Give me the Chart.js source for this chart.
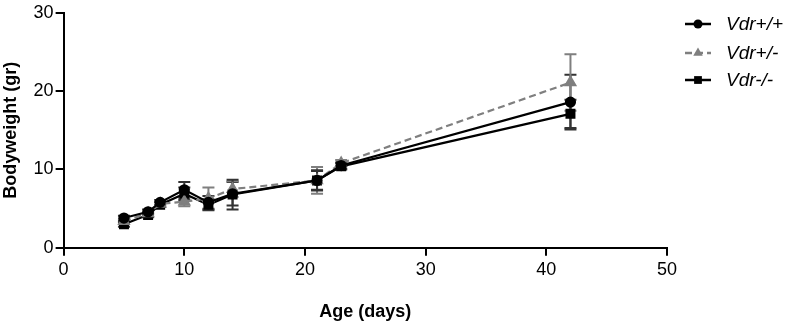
<!DOCTYPE html>
<html>
<head>
<meta charset="utf-8">
<script src="https://cdn.jsdelivr.net/npm/chart.js@4.4.1/dist/chart.umd.min.js"></script>
<style>
  html, body { margin: 0; padding: 0; background: #fff; }
  #wrap { width: 785px; height: 323px; position: relative; }
</style>
</head>
<body>
<div id="wrap"><canvas id="chart" width="785" height="323"></canvas></div>
<script>
// age in days
const days = [5, 7, 8, 10, 12, 14, 21, 23, 42];

const seriesNames = ['Vdr+/+', 'Vdr+/-', 'Vdr-/-'];
const wt = [3.8, 4.6, 5.8, 7.4, 5.8, 6.9, 8.6, 10.5, 18.6];
const wtErr = [0.3, 0.3, 0.3, 1.0, 0.8, 1.5, 1.2, 0.4, 3.5];
const het = [3.4, 4.4, 5.6, 5.9, 6.3, 7.5, 8.6, 10.8, 21.1];
const hetErr = [0.3, 0.3, 0.3, 0.6, 1.4, 1.0, 1.7, 0.4, 3.6];
const ko = [3.0, 4.2, 5.5, 6.9, 5.5, 6.8, 8.6, 10.4, 17.1];
const koErr = [0.3, 0.3, 0.3, 0.8, 0.7, 1.9, 1.3, 0.4, 1.8];

const xTicks = [0, 10, 20, 30, 40, 50];
const yTicks = [0, 10, 20, 30];

const FONT = 'Arial, "Liberation Sans", sans-serif';
const GRAY = '#7f7f7f';

function pts(vals) {
  return vals.map((v, i) => ({ x: days[i], y: v }));
}

// vertical error bars with caps
const errorBars = {
  id: 'errorBars',
  beforeDatasetsDraw(chart) {
    const ctx = chart.ctx;
    const ys = chart.scales.y;
    chart.data.datasets.forEach((ds, di) => {
      const meta = chart.getDatasetMeta(di);
      ctx.save();
      ctx.strokeStyle = ds.errColor;
      ctx.lineWidth = 2;
      meta.data.forEach((p, i) => {
        const v = ds.data[i].y, e = ds.err[i];
        const top = ys.getPixelForValue(v + e);
        const bot = ys.getPixelForValue(v - e);
        ctx.beginPath();
        ctx.moveTo(p.x, top); ctx.lineTo(p.x, bot);
        ctx.moveTo(p.x - 6, top); ctx.lineTo(p.x + 6, top);
        ctx.moveTo(p.x - 6, bot); ctx.lineTo(p.x + 6, bot);
        ctx.stroke();
      });
      ctx.restore();
    });
  }
};

// legend on the right: line + marker + italic label
const sideLegend = {
  id: 'sideLegend',
  afterDraw(chart) {
    const ctx = chart.ctx;
    const rows = [24, 53, 80];
    chart.data.datasets.forEach((ds, i) => {
      const y = rows[i];
      ctx.save();
      ctx.strokeStyle = ds.borderColor;
      ctx.lineWidth = 2.5;
      ctx.setLineDash(ds.borderDash || []);
      ctx.beginPath();
      ctx.moveTo(685, y); ctx.lineTo(711, y);
      ctx.stroke();
      ctx.setLineDash([]);
      ctx.fillStyle = ds.borderColor;
      Chart.helpers.drawPoint(ctx, {
        pointStyle: ds.pointStyle, radius: ds.pointRadius, borderWidth: 0
      }, 698, y);
      ctx.fillStyle = '#000';
      ctx.font = 'italic 19px ' + FONT;
      ctx.textBaseline = 'middle';
      ctx.fillText(ds.label, 726, y + 1);
      ctx.restore();
    });
  }
};

new Chart(document.getElementById('chart'), {
  type: 'line',
  data: {
    datasets: [
      {
        label: seriesNames[0], data: pts(wt), err: wtErr, errColor: '#333',
        borderColor: '#000', backgroundColor: '#000', borderWidth: 2.2,
        pointStyle: 'circle', pointRadius: 4.5
      },
      {
        label: seriesNames[1], data: pts(het), err: hetErr, errColor: GRAY,
        borderColor: GRAY, backgroundColor: GRAY, borderWidth: 2.2, borderDash: [7, 4],
        pointStyle: 'triangle', pointRadius: 5.5
      },
      {
        label: seriesNames[2], data: pts(ko), err: koErr, errColor: '#333',
        borderColor: '#000', backgroundColor: '#000', borderWidth: 2.2,
        pointStyle: 'rect', pointRadius: 5.5
      }
    ]
  },
  options: {
    responsive: false,
    animation: false,
    layout: { padding: { top: 8, right: 118, left: 0, bottom: 0 } },
    plugins: {
      legend: { display: false },
      tooltip: { enabled: false }
    },
    scales: {
      x: {
        type: 'linear', min: 0, max: 50,
        afterBuildTicks: (s) => { s.ticks = xTicks.map(v => ({ value: v })); },
        grid: { drawOnChartArea: false, drawTicks: true, tickLength: 8, color: '#000', lineWidth: 2 },
        border: { display: true, color: '#000', width: 2 },
        ticks: { color: '#000', font: { family: FONT, size: 18 }, padding: 3 },
        title: { display: true, text: 'Age (days)', color: '#000', font: { family: FONT, size: 18, weight: 'bold' }, padding: { top: 18, bottom: 0 } }
      },
      y: {
        min: 0, max: 30,
        afterBuildTicks: (s) => { s.ticks = yTicks.map(v => ({ value: v })); },
        grid: { drawOnChartArea: false, drawTicks: true, tickLength: 8, color: '#000', lineWidth: 2 },
        border: { display: true, color: '#000', width: 2 },
        ticks: { color: '#000', font: { family: FONT, size: 18 }, padding: 2 },
        title: { display: true, text: 'Bodyweight (gr)', color: '#000', font: { family: FONT, size: 18, weight: 'bold' }, padding: { top: 0, bottom: 10 } }
      }
    }
  },
  plugins: [errorBars, sideLegend]
});
</script>
</body>
</html>
